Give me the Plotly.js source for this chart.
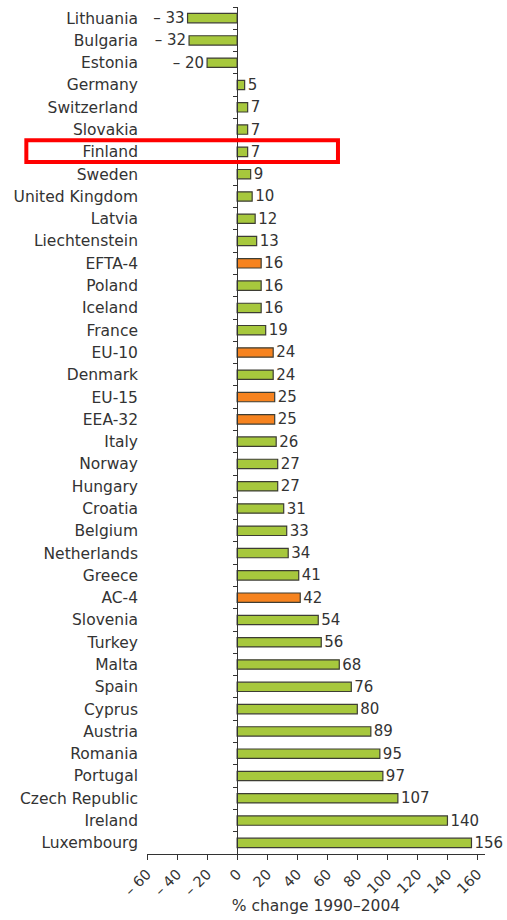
<!DOCTYPE html>
<html>
<head>
<meta charset="utf-8">
<script src="https://cdn.plot.ly/plotly-3.0.1.min.js"></script>
<style>html,body{margin:0;padding:0;background:#fff;}#chart{width:507px;height:920px;}</style>
</head>
<body>
<div id="chart"></div>
<script>
var countries = ["Lithuania","Bulgaria","Estonia","Germany","Switzerland","Slovakia","Finland","Sweden","United Kingdom","Latvia","Liechtenstein","EFTA-4","Poland","Iceland","France","EU-10","Denmark","EU-15","EEA-32","Italy","Norway","Hungary","Croatia","Belgium","Netherlands","Greece","AC-4","Slovenia","Turkey","Malta","Spain","Cyprus","Austria","Romania","Portugal","Czech Republic","Ireland","Luxembourg"];
var values = [-33,-32,-20,5,7,7,7,9,10,12,13,16,16,16,19,24,24,25,25,26,27,27,31,33,34,41,42,54,56,68,76,80,89,95,97,107,140,156];
var aggregates = ["EFTA-4","EU-10","EU-15","EEA-32","AC-4"];
var highlighted = "Finland";
var tickValues = [-60,-40,-20,0,20,40,60,80,100,120,140,160];
var tickLabels = ["\u2013 60","\u2013 40","\u2013 20","0","20","40","60","80","100","120","140","160"];
var xTitle = "% change 1990\u20132004";

var green = "#a7c83d", orange = "#f6831f";
var colors = countries.map(function(c){ return aggregates.indexOf(c) >= 0 ? orange : green; });
var texts = values.map(function(v){ return v < 0 ? "\u2013 " + Math.abs(v) : String(v); });
var n = countries.length;
var xr = [-60, 165];
var font = "DejaVu Sans, Verdana, sans-serif";

var traces = [{
  type: "bar", orientation: "h", x: values, y: countries,
  marker: {color: colors, line: {color: "#3d3d33", width: 1.2}},
  text: texts, textposition: "outside", constraintext: "none", cliponaxis: false,
  textfont: {family: font, size: 15, color: "#333"},
  hoverinfo: "x+y", width: 0.42
},{
  type: "scatter", mode: "none", x: countries.map(function(){return 0;}), y: countries,
  yaxis: "y2", hoverinfo: "skip", showlegend: false
}];

var hi = countries.indexOf(highlighted);
var layout = {
  width: 507, height: 920,
  margin: {l: 147, r: 22, t: 7, b: 66},
  paper_bgcolor: "#fff", plot_bgcolor: "#fff",
  showlegend: false,
  font: {family: font, size: 15, color: "#333"},
  xaxis: {
    range: xr, showgrid: false, zeroline: false, showline: true, linecolor: "#333", linewidth: 1,
    ticks: "outside", ticklen: 5, tickcolor: "#333", tickvals: tickValues, ticktext: tickLabels,
    tickangle: -45, tickfont: {family: font, size: 14.5, color: "#333"},
    title: {text: xTitle, font: {family: font, size: 15.5, color: "#333"}, standoff: 2}
  },
  yaxis: {
    type: "category", categoryorder: "array", categoryarray: countries,
    range: [n - 0.5, -0.5], showgrid: false, zeroline: false, showline: false, ticks: "",
    tickfont: {family: font, size: 15.5, color: "#333"}, ticklabelstandoff: 8
  },
  yaxis2: {
    type: "category", categoryorder: "array", categoryarray: countries,
    range: [n - 0.5, -0.5], overlaying: "y", anchor: "free", position: (0 - xr[0]) / (xr[1] - xr[0]),
    side: "left", showgrid: false, zeroline: false, showline: true, linecolor: "#333", linewidth: 1,
    ticks: "outside", ticklen: 4, tickcolor: "#333", tickson: "boundaries", showticklabels: false
  },
  shapes: [{
    type: "rect", xref: "paper", yref: "y",
    x0: -0.357, x1: 0.565, y0: hi - 0.52, y1: hi + 0.45,
    line: {color: "#ff0000", width: 4}, fillcolor: "rgba(0,0,0,0)"
  }]
};
Plotly.newPlot("chart", traces, layout, {displayModeBar: false, staticPlot: true});
</script>
</body>
</html>
